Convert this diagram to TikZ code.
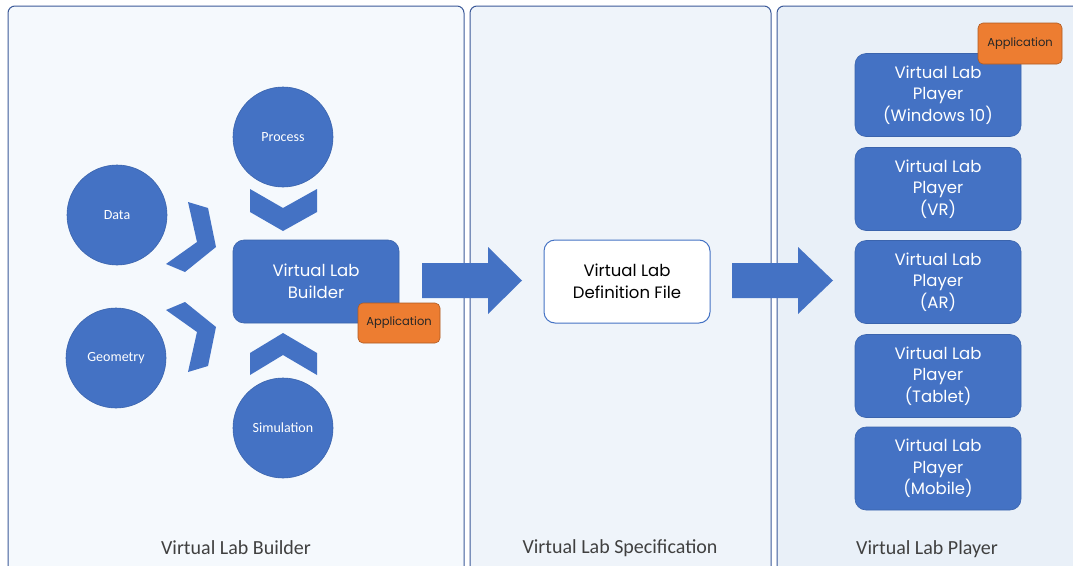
\documentclass[tikz,border=0pt]{standalone}
\usepackage{fontspec}
\setmainfont{Poppins}
\newfontfamily\calib{Carlito}
\definecolor{bblue}{HTML}{4472C4}
\definecolor{bblueline}{HTML}{3B64AD}
\definecolor{panelline}{HTML}{3C5A99}
\definecolor{pfillA}{HTML}{F5F9FD}
\definecolor{pfillB}{HTML}{EFF4FA}
\definecolor{pfillC}{HTML}{E9F0F8}
\definecolor{orng}{HTML}{ED7D31}
\definecolor{orngline}{HTML}{AE5A21}
\definecolor{lbl}{HTML}{404040}
\tikzset{
  panel/.style={draw=panelline, line width=1pt, rounded corners=7pt},
  circ/.style={circle, fill=bblue, draw=bblueline, line width=0.6pt, minimum size=100pt, inner sep=0pt, text=white, font=\calib\fontsize{14}{16}\selectfont},
  bluebox/.style={rectangle, rounded corners=11pt, fill=bblue, draw=bblueline, line width=0.6pt, text=white, align=center, font=\fontsize{16.5}{21.5}\selectfont, inner sep=0pt},
  whitebox/.style={rectangle, rounded corners=11pt, fill=white, draw=bblue, line width=1pt, text=black, align=center, font=\fontsize{16.5}{21.5}\selectfont, inner sep=0pt},
  apptag/.style={rectangle, rounded corners=5pt, fill=orng, draw=orngline, line width=0.6pt, text=black!85, font=\fontsize{11.5}{13}\selectfont, inner sep=0pt},
  chev/.style={fill=bblue, draw=none},
  plabel/.style={text=lbl, font=\calib\fontsize{20}{22}\selectfont}
}
\begin{document}
\begin{tikzpicture}[x=1pt,y=-1pt]
\useasboundingbox (0,0) rectangle (1073,565);
\fill[white] (0,0) rectangle (1073,565);
\begin{scope}
\clip (0,0) rectangle (1073,565);
\draw[panel, fill=pfillA] (8,6) rectangle (464,585);
\draw[panel, fill=pfillB] (470,6) rectangle (771,585);
\draw[panel, fill=pfillC] (777,6) rectangle (1095,585);
\end{scope}
% panel labels
\node[plabel] (lb1) at (236,548) {Virtual Lab Builder};
\node[plabel] (lb2) at (620,548) {Virtual Lab Specification};
\node[plabel] (lb3) at (927,549) {Virtual Lab Player};
% circles
\node[circ] (data) at (117,215) {Data};
\node[circ] (geom) at (116,358) {Geometry};
\node[circ] (proc) at (283,137) {Process};
\node[circ] (sim) at (283,428) {Simulation};
% chevrons
\fill[chev] (250,189) -- (283,208) -- (317,189) -- (317,212) -- (283,231) -- (250,212) -- cycle;
\fill[chev] (250,353) -- (283,333) -- (317,353) -- (317,375) -- (283,355) -- (250,375) -- cycle;
\fill[chev] (188,202) -- (208,208) -- (216,247) -- (185,272) -- (166,264) -- (197,242) -- cycle;
\fill[chev] (188,372) -- (208,366) -- (216,327) -- (185,302) -- (166,310) -- (197,332) -- cycle;
% builder
\node[bluebox, minimum width=166pt, minimum height=83pt] (builder) at (316,281.5) {Virtual Lab\\Builder};
\node[apptag, minimum width=82pt, minimum height=40pt] (app1) at (399,323) {Application};
% arrows
\fill[chev] (422,263) -- (488,263) -- (488,247) -- (522,280.5) -- (488,314) -- (488,298) -- (422,298) -- cycle;
\node[whitebox, minimum width=166pt, minimum height=83pt] (spec) at (627,281.5) {Virtual Lab\\Definition File};
\fill[chev] (732,263) -- (798,263) -- (798,247) -- (833,280.5) -- (798,314) -- (798,298) -- (732,298) -- cycle;
% players
\node[bluebox, minimum width=166pt, minimum height=83pt] (p1) at (938,95) {Virtual Lab\\Player\\(Windows 10)};
\node[bluebox, minimum width=166pt, minimum height=83pt] (p2) at (938,189) {Virtual Lab\\Player\\(VR)};
\node[bluebox, minimum width=166pt, minimum height=83pt] (p3) at (938,282) {Virtual Lab\\Player\\(AR)};
\node[bluebox, minimum width=166pt, minimum height=83pt] (p4) at (938,376) {Virtual Lab\\Player\\(Tablet)};
\node[bluebox, minimum width=166pt, minimum height=83pt] (p5) at (938,468.5) {Virtual Lab\\Player\\(Mobile)};
\node[apptag, minimum width=84pt, minimum height=41pt] (app2) at (1020,43.5) {Application};
\end{tikzpicture}
\end{document}
